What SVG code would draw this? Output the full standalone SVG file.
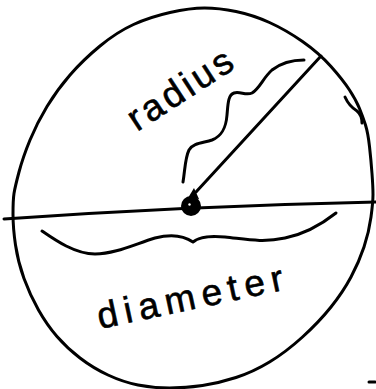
<svg xmlns="http://www.w3.org/2000/svg" width="376" height="389" viewBox="0 0 376 389">
<style>
.ink{fill:none;stroke:#000;stroke-width:3;stroke-linecap:round;stroke-linejoin:round}
.lbl{font-family:"Liberation Sans",Arial,sans-serif;font-size:37px;fill:#000;stroke:#000;stroke-width:0.6}
</style>
<rect width="376" height="389" fill="#fff"/>
<g id="circle">
<path class="ink" d="M 204.5,8 Q 219,8 236,11.5 Q 253,15 269.5,22.5 Q 286,30 302.5,41.5 Q 319,53 331,66.5 Q 343,80 349.5,90 Q 356,100 359.5,108.5 Q 363,117 365.5,125 Q 368,133 369.5,146.5 Q 371,160 372,173.5 Q 373,187 373,194.5 Q 373,202 371,217 Q 369,232 364,247 Q 359,262 351,277 Q 343,292 331,307 Q 319,322 302.5,337 Q 286,352 269.5,362 Q 253,372 236,377.5 Q 219,383 202.5,385.5 Q 186,388 169.5,388 Q 153,388 138,385 Q 123,382 108,375 Q 93,368 80,358 Q 67,348 57,336.5 Q 47,325 38.5,310 Q 30,295 24,278.5 Q 18,262 15.5,245 Q 13,228 13,214 Q 13,200 14,193.5 Q 15,187 19,172 Q 23,157 30,140 Q 37,123 47,106.5 Q 57,90 70,75 Q 83,60 100,46 Q 117,32 133.5,24.5 Q 150,17 170,12.5 Q 190,8 204.5,8 Z"/>
<path class="ink" d="M345,97 Q349,106 357,111 Q362,115 362,123"/>
<path class="ink" d="M369,382 L375,382"/>
</g>
<g id="connectors">
<path id="diameter-line" class="ink" d="M4,219 Q190,206 376,202"/>
<path id="radius-line" class="ink" d="M196,192 L321,56"/>
</g>
<g id="center">
<circle cx="191" cy="206" r="10" fill="#000"/>
<path d="M188,198 L194,188 L199,199 Z" fill="#000"/>
<circle cx="189.5" cy="204.5" r="1.2" fill="#fff"/>
</g>
<g id="radius-label">
<path class="ink" d="M183,182 C185,170 185,158 189,150 C193,143 203,143 212,140 C222,136 226,128 227,115 C228,104 228,95 234,93 C240,91 246,96 252,93 C260,88 263,78 272,70 C281,63 292,60 304,60"/>
<text class="lbl" x="137" y="132" letter-spacing="3.5" transform="rotate(-33 137 132)">radius</text>
</g>
<g id="diameter-label">
<path class="ink" d="M42,231 C55,240 75,254 95,254 C115,254 135,244 155,238 C170,234 183,235 193,242 C200,236 212,236 225,237 C245,239 262,243 285,238 C305,234 322,224 336,213"/>
<text class="lbl" x="100" y="329" letter-spacing="6.5" transform="rotate(-12 100 329)">diameter</text>
</g>
</svg>
